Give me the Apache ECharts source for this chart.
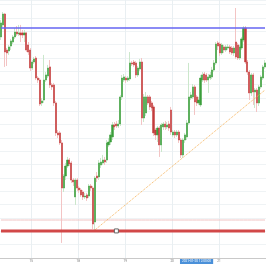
<!DOCTYPE html>
<html>
<head>
<meta charset="utf-8">
<script src="https://cdn.jsdelivr.net/npm/echarts@6/dist/echarts.min.js"></script>
<style>
html,body{margin:0;padding:0;background:#fff;}
#c{width:266px;height:266px;}
</style>
</head>
<body>
<div id="c"></div>
<script>
// Trading days shown on the x axis (weekend skipped), hourly candles starting 2021-01-14 08:00
const days = ['2021-01-14','2021-01-15','2021-01-18','2021-01-19','2021-01-20','2021-01-21'];
const firstHour = 8;
const candleCount = 136;

const open = [1.21658,1.21748,1.21830,1.21560,1.21553,1.21590,1.21620,1.21658,1.21695,1.21680,
1.21688,1.21688,1.21673,1.21688,1.21598,1.21560,1.21425,1.21470,1.21500,1.21350,
1.21335,1.21163,1.21185,1.21335,1.21365,1.21433,1.21298,1.21298,1.21163,1.20938,
1.20938,1.20863,1.20525,1.20615,1.20690,1.20735,1.20713,1.20585,1.20458,1.20585,
1.20525,1.20510,1.20495,1.20458,1.20473,1.20465,1.20540,1.20525,1.20270,1.20615,
1.20608,1.20698,1.20713,1.20735,1.20735,1.20848,1.20870,1.20908,1.20998,1.21005,
1.20990,1.21005,1.21208,1.21335,1.21350,1.21335,1.21343,1.21463,1.21470,1.21463,
1.21373,1.21418,1.21470,1.21050,1.21088,1.21208,1.21208,1.21163,1.21133,1.20960,
1.20923,1.20975,1.20848,1.20983,1.21005,1.20983,1.21005,1.21110,1.20923,1.20945,
1.20923,1.20945,1.20885,1.20773,1.20885,1.20908,1.21013,1.21200,1.21208,1.21283,
1.21208,1.21163,1.21148,1.21335,1.21380,1.21373,1.21335,1.21350,1.21358,1.21410,
1.21463,1.21613,1.21605,1.21538,1.21583,1.21560,1.21575,1.21583,1.21575,1.21538,
1.21620,1.21598,1.21500,1.21575,1.21635,1.21725,1.21470,1.21395,1.21238,1.21373,
1.21245,1.21260,1.21163,1.21283,1.21350,1.21433];

const close = [1.21763,1.21830,1.21545,1.21538,1.21583,1.21628,1.21658,1.21695,1.21680,1.21688,
1.21673,1.21673,1.21688,1.21560,1.21545,1.21425,1.21470,1.21493,1.21350,1.21335,
1.21155,1.21178,1.21335,1.21373,1.21425,1.21298,1.21283,1.21163,1.20938,1.20923,
1.20863,1.20525,1.20615,1.20690,1.20735,1.20705,1.20585,1.20570,1.20585,1.20525,
1.20510,1.20473,1.20458,1.20465,1.20450,1.20540,1.20525,1.20255,1.20600,1.20600,
1.20713,1.20720,1.20735,1.20720,1.20863,1.20870,1.20923,1.20998,1.20983,1.20990,
1.21005,1.21208,1.21350,1.21358,1.21335,1.21350,1.21463,1.21455,1.21448,1.21373,
1.21425,1.21470,1.21050,1.21208,1.21208,1.21163,1.21133,1.21125,1.20938,1.20923,
1.20975,1.20848,1.20998,1.21005,1.20983,1.20998,1.20975,1.20945,1.20945,1.20923,
1.20945,1.20885,1.20773,1.20885,1.20923,1.21013,1.21208,1.21223,1.21283,1.21170,
1.21163,1.21185,1.21350,1.21373,1.21335,1.21335,1.21358,1.21373,1.21410,1.21463,
1.21605,1.21590,1.21538,1.21598,1.21560,1.21583,1.21583,1.21545,1.21538,1.21575,
1.21508,1.21500,1.21583,1.21643,1.21725,1.21470,1.21395,1.21238,1.21373,1.21245,
1.21260,1.21163,1.21283,1.21358,1.21433,1.21463];

const low = [1.21635,1.21733,1.21433,1.21440,1.21523,1.21560,1.21605,1.21643,1.21665,1.21665,
1.21620,1.21650,1.21620,1.21545,1.21523,1.21403,1.21410,1.21455,1.21335,1.21313,
1.21140,1.21140,1.21163,1.21320,1.21350,1.21275,1.21260,1.21140,1.20915,1.20900,
1.20848,1.20113,1.20495,1.20585,1.20675,1.20690,1.20563,1.20540,1.20398,1.20503,
1.20488,1.20458,1.20435,1.20443,1.20428,1.20450,1.20503,1.20218,1.20210,1.20570,
1.20585,1.20675,1.20698,1.20698,1.20713,1.20833,1.20848,1.20885,1.20960,1.20975,
1.20975,1.20990,1.21185,1.21320,1.21313,1.21320,1.21328,1.21440,1.21433,1.21350,
1.21358,1.21403,1.20998,1.21020,1.21065,1.21148,1.21110,1.21103,1.20915,1.20885,
1.20870,1.20758,1.20795,1.20960,1.20960,1.20968,1.20953,1.20923,1.20908,1.20900,
1.20908,1.20863,1.20750,1.20750,1.20863,1.20885,1.20998,1.21185,1.21193,1.21073,
1.21140,1.21148,1.21133,1.21320,1.21313,1.21320,1.21238,1.21335,1.21343,1.21395,
1.21448,1.21560,1.21515,1.21523,1.21538,1.21545,1.21560,1.21530,1.21523,1.21515,
1.21493,1.21485,1.21485,1.21560,1.21620,1.21455,1.21373,1.21185,1.21215,1.21148,
1.21125,1.21095,1.21140,1.21268,1.21335,1.21418];

const high = [1.21785,1.21845,1.21838,1.21575,1.21598,1.21643,1.21673,1.21725,1.21740,1.21748,
1.21748,1.21710,1.21710,1.21695,1.21620,1.21575,1.21485,1.21508,1.21515,1.21365,
1.21350,1.21200,1.21523,1.21395,1.21448,1.21485,1.21313,1.21313,1.21178,1.20960,
1.20953,1.20885,1.20630,1.20713,1.20758,1.20750,1.20728,1.20600,1.20600,1.20600,
1.20540,1.20525,1.20510,1.20488,1.20488,1.20555,1.20555,1.20540,1.20615,1.20645,
1.20735,1.20750,1.20773,1.20758,1.20885,1.20900,1.20945,1.21020,1.21020,1.21028,
1.21035,1.21223,1.21373,1.21380,1.21365,1.21365,1.21545,1.21478,1.21485,1.21478,
1.21440,1.21493,1.21500,1.21230,1.21245,1.21223,1.21223,1.21178,1.21148,1.20975,
1.20990,1.20990,1.21013,1.21020,1.21028,1.21020,1.21028,1.21133,1.20960,1.20960,
1.20960,1.20960,1.20900,1.20900,1.20938,1.21035,1.21463,1.21245,1.21305,1.21298,
1.21223,1.21208,1.21373,1.21395,1.21395,1.21388,1.21380,1.21395,1.21433,1.21485,
1.21620,1.21628,1.21620,1.21613,1.21598,1.21598,1.21605,1.21598,1.21590,1.21590,
1.21875,1.21613,1.21598,1.21658,1.21740,1.21740,1.21485,1.21410,1.21388,1.21388,
1.21275,1.21275,1.21298,1.21373,1.21448,1.21485];

// Drawn levels and trend line
const resistanceLevel = 1.21725;
const supportLevel = 1.20203;
const supportZoneTop = 1.20285;
const trendStart = {index: 48, value: 1.20210};
const trendEnd = {index: 135, value: 1.21260};
const handlePoint = {index: 59, value: 1.20203};
const pointerIndex = 100;

const cats = [];
(function(){
  let d = 0, h = firstHour;
  for (let i = 0; i < candleCount; i++) {
    cats.push(days[d] + ' ' + String(h).padStart(2,'0') + ':00');
    h++;
    if (h === 24) { h = 0; d++; }
  }
})();

const full = open.map((o,i)=>[o, close[i], low[i], high[i]]);
const bodies = open.map((o,i)=>[o, close[i], Math.min(o,close[i]), Math.max(o,close[i])]);

const isDayStart = (idx, val) => String(val).slice(11,13) === '00';
const levelLine = (v) => cats.map(() => v);

const chart = echarts.init(document.getElementById('c'), null, {renderer:'canvas'});
chart.setOption({
  animation: false,
  backgroundColor: '#ffffff',
  grid: {left:0, right:0, top:0, bottom:8, containLabel:false},
  xAxis: {
    type: 'category',
    data: cats,
    boundaryGap: true,
    axisLine: {show:true, lineStyle:{color:'#c9c9c9', width:1}},
    axisTick: {show:false},
    axisLabel: {
      interval: isDayStart,
      formatter: (v) => String(parseInt(v.slice(8,10),10)),
      fontSize: 3, color: '#6f6f6f', margin: 1.5, fontFamily: 'Roboto',
      padding: [0, 2, 0, 0]
    },
    splitLine: {show:true, interval: isDayStart, lineStyle:{color:'#e9eff2', width:1}},
    axisPointer: {
      show: true,
      type: 'line',
      value: pointerIndex,
      status: 'show',
      lineStyle: {opacity: 0},
      label: {
        show: true,
        formatter: (p) => (typeof p.value === 'number' ? cats[p.value] : p.value) + ':00',
        backgroundColor: '#4a90d9',
        color: '#ffffff',
        fontSize: 3.2,
        fontFamily: 'Roboto',
        padding: [1, 2],
        margin: 1,
        borderRadius: 0
      }
    }
  },
  yAxis: {
    type: 'value',
    position: 'right',
    min: 1.2,
    max: 1.21935,
    interval: 0.001,
    axisLine: {show:false},
    axisTick: {show:false},
    axisLabel: {show:false},
    splitLine: {show:true, lineStyle:{color:'#eff3f5', width:1}}
  },
  series: [
    {
      name: 'zone', type: 'line', data: levelLine(supportZoneTop), symbol: 'none', silent: true,
      lineStyle: {color:'#f0c4c4', width:1}, z: 1
    },
    {
      name: 'wicks',
      type: 'candlestick',
      data: full,
      barWidth: '70%',
      z: 2,
      itemStyle: {
        color: '#cfe9cf', color0: '#f4c9c9',
        borderColor: '#cbe7cb', borderColor0: '#f3c4c4',
        borderWidth: 1
      }
    },
    {
      name: 'bodies',
      type: 'candlestick',
      data: bodies,
      barWidth: '82%',
      z: 3,
      itemStyle: {
        color: '#3b9e3b', color0: '#c33c3c',
        borderColor: '#3b9e3b', borderColor0: '#c33c3c',
        borderWidth: 0.5
      }
    },
    {
      name: 'resistance', type: 'line', data: levelLine(resistanceLevel), symbol: 'none', silent: true,
      lineStyle: {color:'#6666f2', width:1.5}, z: 4
    },
    {
      name: 'trend', type: 'line', symbol: 'none', silent: true, z: 4,
      data: cats.map((c, i) => (i === trendStart.index ? trendStart.value : (i === trendEnd.index ? trendEnd.value : null))),
      connectNulls: true,
      lineStyle: {color:'#f5b25a', width:1, type:'dotted'}
    },
    {
      name: 'support', type: 'line', data: levelLine(supportLevel), symbol: 'none', silent: true,
      lineStyle: {color:'#d24848', width:3}, z: 5
    },
    {
      name: 'handle', type: 'scatter', silent: true, z: 6,
      data: [[cats[handlePoint.index], handlePoint.value]],
      symbol: 'rect', symbolSize: 4,
      itemStyle: {color:'#ffffff', borderColor:'#666666', borderWidth:1, opacity:1}
    }
  ]
});
</script>
</body>
</html>
